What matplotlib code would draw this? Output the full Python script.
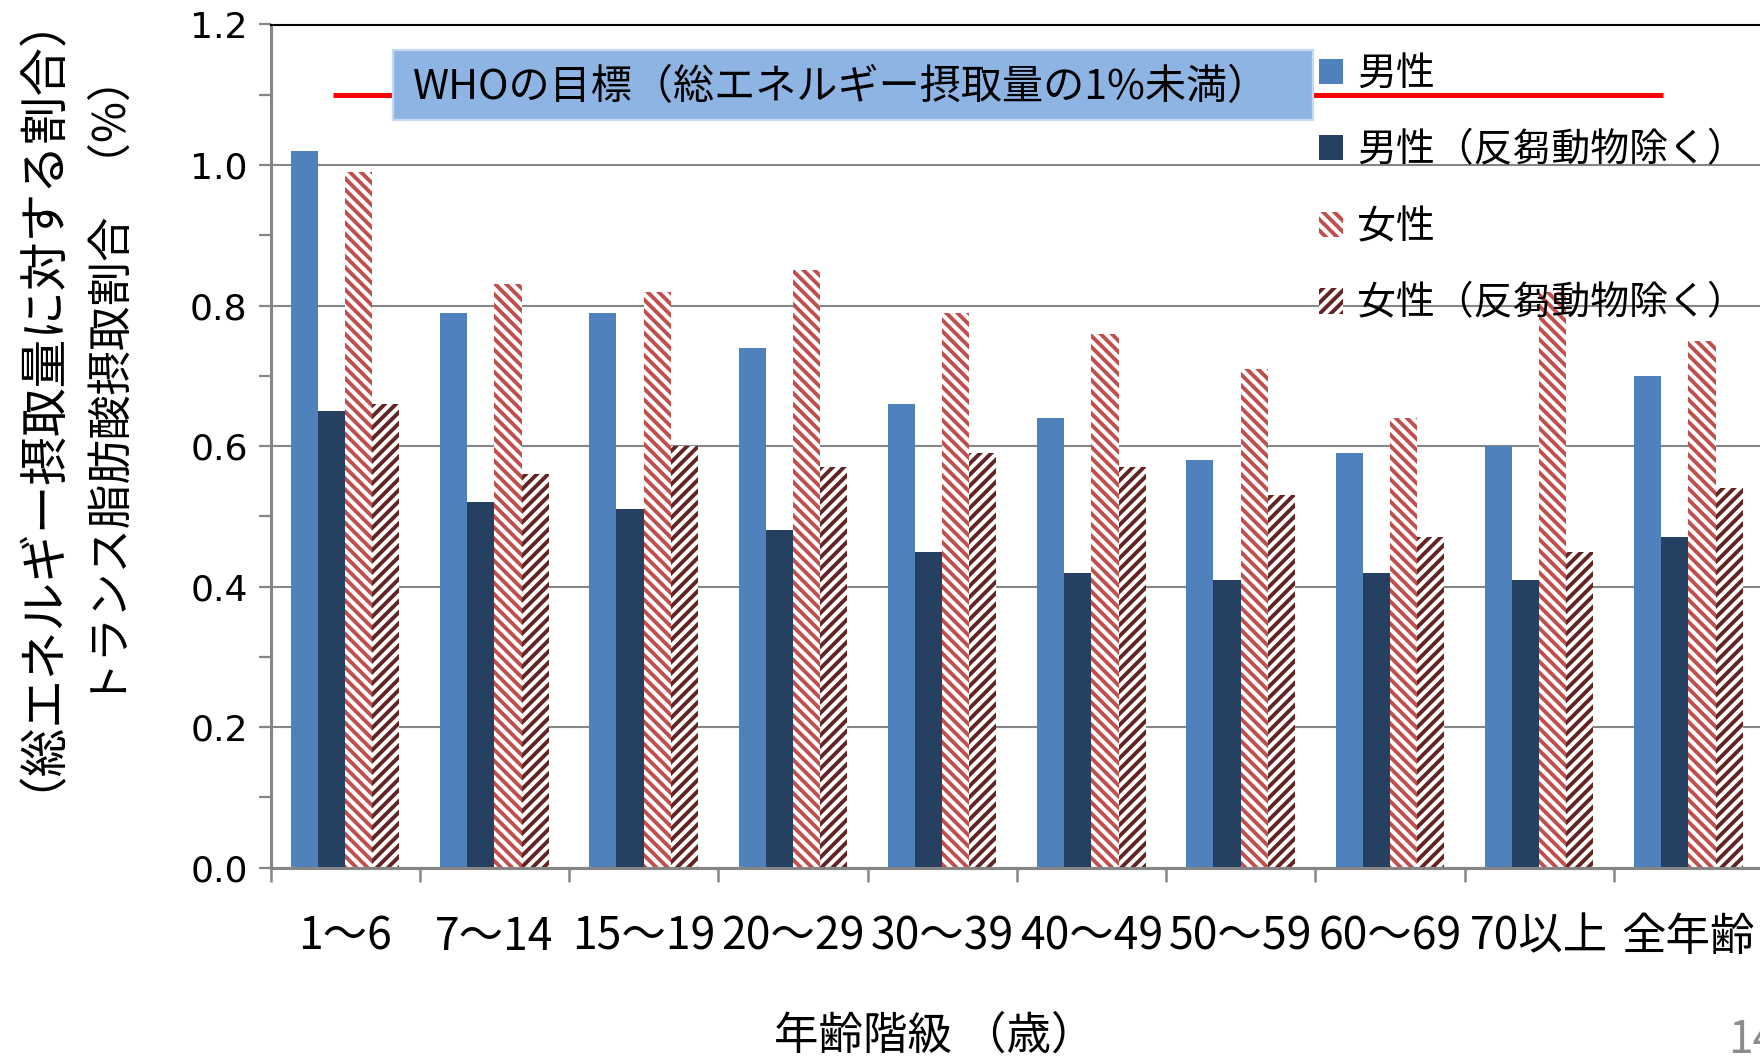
import numpy as np
import matplotlib
matplotlib.use("Agg")
import matplotlib.pyplot as plt
from matplotlib.patches import Rectangle
from matplotlib.ticker import MultipleLocator, FormatStrFormatter

plt.rcParams['font.family'] = ['Noto Sans CJK JP', 'DejaVu Sans']
plt.rcParams['hatch.linewidth'] = 1.4

# Age groups and trans-fat intake (% of total energy)
categories = ["1～6", "7～14", "15～19", "20～29", "30～39",
              "40～49", "50～59", "60～69", "70以上", "全年齢"]
male = [1.02, 0.79, 0.79, 0.74, 0.66, 0.64, 0.58, 0.59, 0.60, 0.70]
male_excl = [0.65, 0.52, 0.51, 0.48, 0.45, 0.42, 0.41, 0.42, 0.41, 0.47]
female = [0.99, 0.83, 0.82, 0.85, 0.79, 0.76, 0.71, 0.64, 0.82, 0.75]
female_excl = [0.66, 0.56, 0.60, 0.57, 0.59, 0.57, 0.53, 0.47, 0.45, 0.54]
series_labels = ["男性", "男性（反芻動物除く）", "女性", "女性（反芻動物除く）"]
who_target = 1.1
who_label = "WHOの目標（総エネルギー摂取量の1%未満）"

W, H = 1760, 1056
fig = plt.figure(figsize=(W / 200, H / 200), dpi=200)
ax = fig.add_axes([270.5 / W, 1 - 867.7 / H, (1763 - 270.5) / W, (867.7 - 24.5) / H])

x = np.arange(len(categories))
bw = 0.182
grid_gray = "#868686"

ax.bar(x - 1.5 * bw, male, bw, color="#4F81BD", label=series_labels[0], zorder=2)
ax.bar(x - 0.5 * bw, male_excl, bw, color="#254061", label=series_labels[1], zorder=2)
ax.bar(x + 0.5 * bw, female, bw, facecolor="white", edgecolor="#C0504D",
       hatch="\\" * 6, linewidth=0, label=series_labels[2], zorder=2)
ax.bar(x + 1.5 * bw, female_excl, bw, facecolor="white", edgecolor="#632523",
       hatch="/" * 6, linewidth=0, label=series_labels[3], zorder=2)

# WHO target line
ax.hlines(who_target, -0.08, 8.83, color="#FF0000", lw=1.8, zorder=3)

ax.set_xlim(-0.5, len(categories) - 0.5)
ax.set_ylim(0, 1.2)

# y axis
ax.yaxis.set_major_locator(MultipleLocator(0.2))
ax.yaxis.set_minor_locator(MultipleLocator(0.1))
ax.yaxis.set_major_formatter(FormatStrFormatter("%.1f"))
ax.tick_params(axis="y", which="both", direction="out", length=4.2, width=0.8,
               color=grid_gray, pad=4.0)
for lbl in ax.get_yticklabels():
    lbl.set_fontfamily("DejaVu Sans")
    lbl.set_fontsize(13)
ax.yaxis.grid(True, which="major", color=grid_gray, lw=0.75)
ax.set_axisbelow(True)

# x axis: boundary ticks, labels centred on groups
ax.set_xticks(np.arange(-0.5, len(categories), 1))
ax.set_xticklabels([])
ax.set_xticks(x, minor=True)
ax.set_xticklabels(categories, minor=True, fontsize=16)
ax.tick_params(axis="x", which="major", direction="out", length=5, width=0.9,
               color=grid_gray)
ax.tick_params(axis="x", which="minor", length=0, pad=16.5)

for side in ("left", "bottom"):
    ax.spines[side].set_color(grid_gray)
    ax.spines[side].set_linewidth(1.1)
ax.spines["right"].set_visible(False)
ax.spines["top"].set_color("black")
ax.spines["top"].set_linewidth(0.75)

# WHO annotation box
ax.add_patch(Rectangle((392.7 / W, 1 - 120 / H), (1313 - 392.7) / W, 70 / H,
                       transform=fig.transFigure, facecolor="#8EB4E3",
                       edgecolor="#C6D9F1", lw=0.8, zorder=5, clip_on=False))
fig.text(413 / W, 1 - 88 / H, who_label, fontsize=14.8, ha="left", va="center",
         zorder=6)

ax.legend(loc="upper left", bbox_to_anchor=(1319 / W, 1 - 54 / H),
          bbox_transform=fig.transFigure, frameon=False, fontsize=14,
          handlelength=0.62, handleheight=0.62, handletextpad=0.36,
          borderpad=0, borderaxespad=0, labelspacing=0.94)

# axis titles
fig.text(935 / W, 1 - 1036 / H, "年齢階級 （歳）", fontsize=16, ha="center", va="center")
fig.text(113 / W, 1 - 381 / H, "トランス脂肪酸摂取割合   （%）", fontsize=16,
         rotation=90, ha="center", va="center")
fig.text(15 / W, 1 - 378 / H, "（総エネルギー摂取量に対する割合）", fontsize=17.5,
         rotation=90, ha="center", va="center")

# page number
fig.text(1728 / W, 1 - 1040 / H, "14", fontsize=16, color="#8C8C8C",
         ha="left", va="center")

fig.savefig("out.png", dpi=200)
